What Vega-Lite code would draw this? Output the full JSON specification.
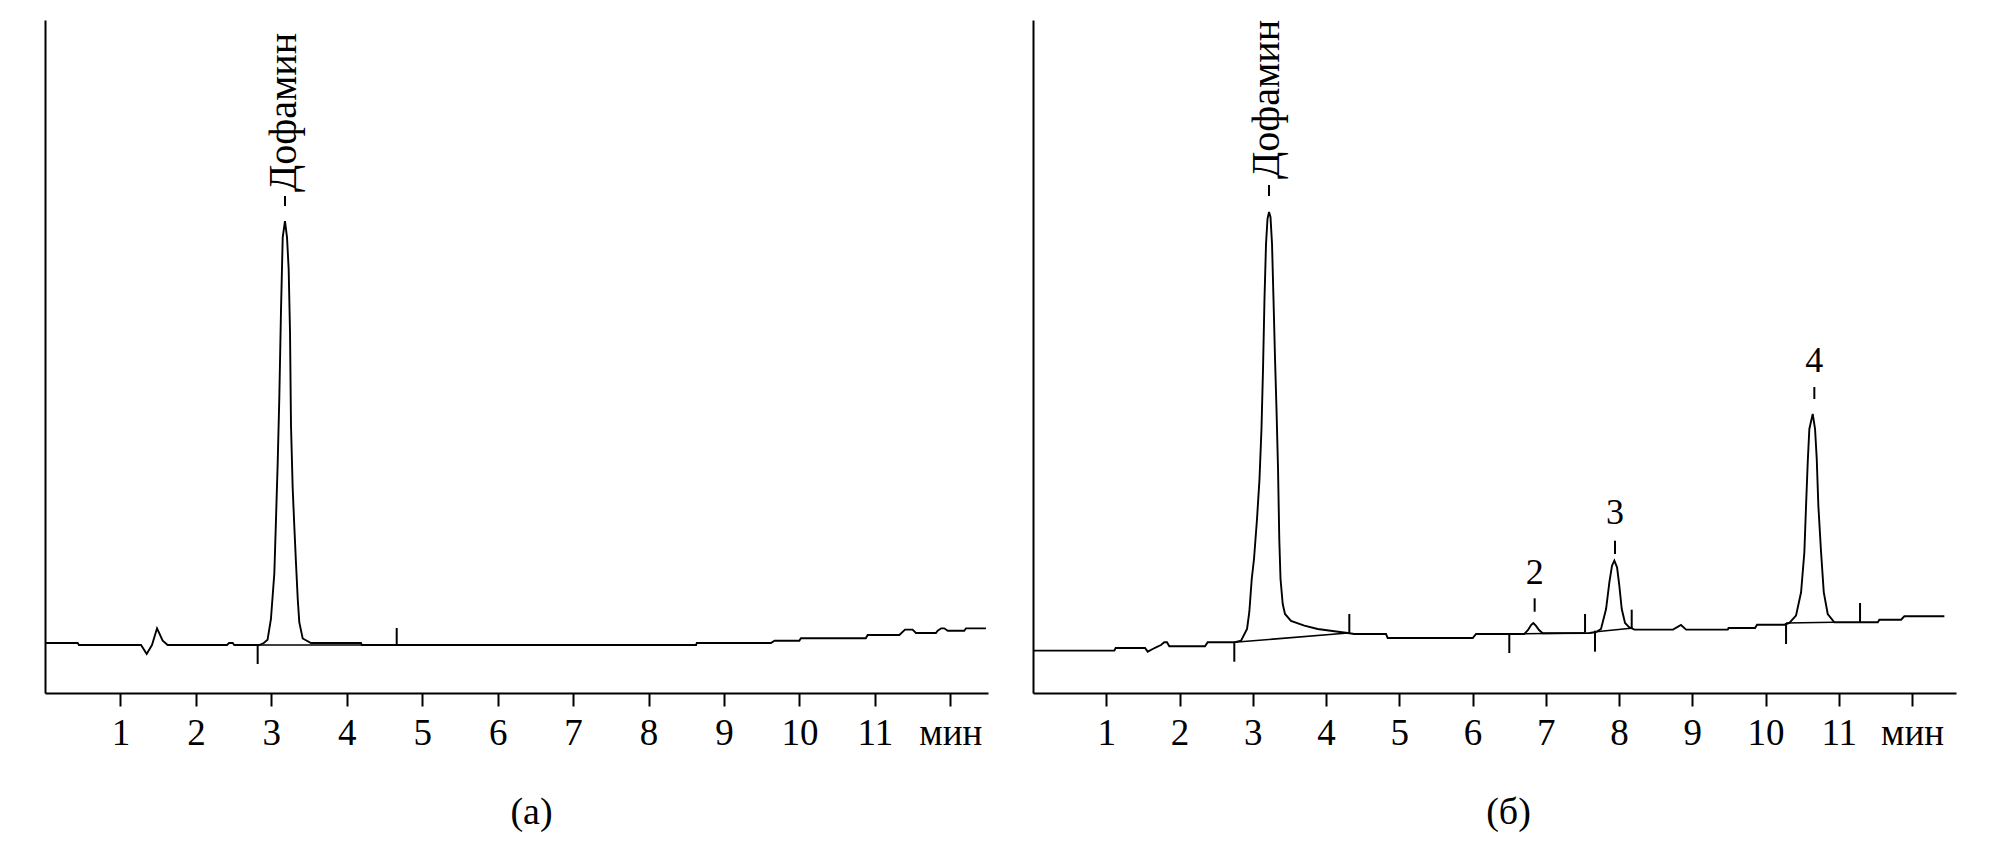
{
 "$schema": "https://vega.github.io/schema/vega-lite/v6.json",
 "background": "white",
 "padding": {"left": 41, "top": 20, "right": 10, "bottom": 10},
 "spacing": 45,
 "bounds": "flush",
 "config": {
  "view": {"stroke": null},
  "font": "Times New Roman, Liberation Serif, DejaVu Serif, serif",
  "axis": {"grid": false, "domainColor": "black", "domainWidth": 2, "tickColor": "black", "tickWidth": 2, "tickSize": 13, "labelColor": "black", "labelFont": "Times New Roman, Liberation Serif, DejaVu Serif, serif", "labelFontSize": 37, "labelPadding": 9, "titleFont": "Times New Roman, Liberation Serif, DejaVu Serif, serif", "titleFontSize": 38, "titleFontWeight": "normal", "titleColor": "black"}
 },
 "datasets": {
  "a_trace": [
   {"t":0,"v":7.43},{"t":0.433,"v":7.43},{"t":0.45,"v":7.13},{"t":1.273,"v":7.13},{"t":1.348,"v":5.79},{"t":1.418,"v":7.13},{"t":1.485,"v":9.61},{"t":1.56,"v":7.77},{"t":1.626,"v":7.13},{"t":2.413,"v":7.13},{"t":2.44,"v":7.43},{"t":2.488,"v":7.43},{"t":2.509,"v":7.13},{"t":2.841,"v":7.13},{"t":2.9,"v":7.43},{"t":2.95,"v":7.9},{"t":2.995,"v":11.0},{"t":3.04,"v":17.8},{"t":3.062,"v":25.8},{"t":3.085,"v":34.4},{"t":3.106,"v":43.9},{"t":3.128,"v":56.7},{"t":3.151,"v":67.7},{"t":3.181,"v":70.1},{"t":3.208,"v":67.7},{"t":3.23,"v":63.0},{"t":3.248,"v":53.5},{"t":3.261,"v":39.7},{"t":3.283,"v":30.5},{"t":3.305,"v":24.7},{"t":3.327,"v":19.3},{"t":3.35,"v":14.0},{"t":3.371,"v":10.5},{"t":3.416,"v":8.1},{"t":3.526,"v":7.43},{"t":4.189,"v":7.43},{"t":4.2,"v":7.13},{"t":8.63,"v":7.13},{"t":8.64,"v":7.43},{"t":9.623,"v":7.43},{"t":9.67,"v":7.77},{"t":9.999,"v":7.77},{"t":10.02,"v":8.13},{"t":10.88,"v":8.13},{"t":10.905,"v":8.62},{"t":11.325,"v":8.62},{"t":11.4,"v":9.41},{"t":11.5,"v":9.41},{"t":11.545,"v":8.92},{"t":11.81,"v":8.92},{"t":11.833,"v":9.26},{"t":11.88,"v":9.61},{"t":11.92,"v":9.61},{"t":11.966,"v":9.26},{"t":12.186,"v":9.26},{"t":12.208,"v":9.61},{"t":12.473,"v":9.61}
  ],
  "a_base": [
   {"seg":1,"t":2.819,"v":7.13},{"seg":1,"t":4.662,"v":7.13}
  ],
  "a_rules": [
   {"t":2.819,"v1":7.13,"v2":4.31},{"t":4.662,"v1":9.66,"v2":7.13},{"t":3.181,"v1":72.36,"v2":73.85}
  ],
  "a_names": [
   {"t":3.165,"v":74.44,"label":"Дофамин"}
  ],
  "b_trace": [
   {"t":0,"v":6.29},{"t":1.11,"v":6.29},{"t":1.129,"v":6.69},{"t":1.529,"v":6.69},{"t":1.566,"v":6.14},{"t":1.634,"v":6.54},{"t":1.679,"v":6.79},{"t":1.747,"v":7.13},{"t":1.792,"v":7.53},{"t":1.829,"v":7.53},{"t":1.861,"v":6.94},{"t":2.348,"v":6.94},{"t":2.385,"v":7.53},{"t":2.744,"v":7.53},{"t":2.84,"v":7.77},{"t":2.922,"v":9.51},{"t":2.953,"v":12.04},{"t":2.986,"v":16.94},{"t":3.017,"v":19.91},{"t":3.058,"v":25.85},{"t":3.092,"v":31.8},{"t":3.119,"v":39.23},{"t":3.14,"v":48.14},{"t":3.16,"v":58.54},{"t":3.181,"v":66.72},{"t":3.201,"v":70.43},{"t":3.222,"v":71.47},{"t":3.242,"v":70.73},{"t":3.263,"v":66.72},{"t":3.283,"v":58.54},{"t":3.304,"v":49.63},{"t":3.324,"v":42.2},{"t":3.345,"v":33.28},{"t":3.362,"v":22.88},{"t":3.379,"v":16.94},{"t":3.409,"v":13.22},{"t":3.44,"v":11.74},{"t":3.522,"v":10.7},{"t":3.704,"v":10.0},{"t":3.887,"v":9.51},{"t":4.113,"v":9.17},{"t":4.296,"v":8.92},{"t":4.386,"v":8.77},{"t":4.819,"v":8.77},{"t":4.842,"v":8.17},{"t":6.003,"v":8.17},{"t":6.048,"v":8.77},{"t":6.707,"v":8.77},{"t":6.758,"v":9.36},{"t":6.799,"v":10.1},{"t":6.83,"v":10.4},{"t":6.867,"v":9.96},{"t":6.908,"v":9.36},{"t":6.958,"v":8.87},{"t":7.6,"v":8.92},{"t":7.686,"v":9.06},{"t":7.754,"v":9.51},{"t":7.823,"v":12.48},{"t":7.868,"v":16.45},{"t":7.904,"v":18.92},{"t":7.936,"v":19.66},{"t":7.973,"v":18.68},{"t":8.004,"v":15.94},{"t":8.037,"v":12.48},{"t":8.082,"v":10.4},{"t":8.141,"v":9.76},{"t":8.177,"v":9.61},{"t":8.209,"v":9.41},{"t":8.737,"v":9.41},{"t":8.846,"v":10.1},{"t":8.915,"v":9.41},{"t":9.484,"v":9.41},{"t":9.495,"v":9.66},{"t":9.857,"v":9.66},{"t":9.884,"v":10.15},{"t":10.257,"v":10.15},{"t":10.325,"v":10.4},{"t":10.416,"v":11.49},{"t":10.485,"v":14.96},{"t":10.53,"v":20.91},{"t":10.553,"v":27.83},{"t":10.576,"v":34.28},{"t":10.598,"v":39.23},{"t":10.644,"v":41.46},{"t":10.676,"v":39.23},{"t":10.699,"v":34.77},{"t":10.721,"v":27.83},{"t":10.758,"v":20.91},{"t":10.795,"v":14.96},{"t":10.849,"v":11.74},{"t":10.939,"v":10.51},{"t":11.532,"v":10.51},{"t":11.554,"v":10.89},{"t":11.85,"v":10.89},{"t":11.895,"v":11.4},{"t":12.441,"v":11.4}
  ],
  "b_base": [
   {"seg":1,"t":2.748,"v":7.53},{"seg":1,"t":4.3,"v":8.92},
   {"seg":2,"t":6.502,"v":8.77},{"seg":2,"t":7.536,"v":8.92},
   {"seg":3,"t":7.686,"v":9.11},{"seg":3,"t":8.164,"v":9.61},
   {"seg":4,"t":10.28,"v":10.4},{"seg":4,"t":10.939,"v":10.51}
  ],
  "b_rules": [
   {"t":2.748,"v1":7.53,"v2":4.65},{"t":4.318,"v1":11.74,"v2":8.92},{"t":6.502,"v1":8.77,"v2":5.94},{"t":7.536,"v1":11.74,"v2":9.02},{"t":7.672,"v1":9.26,"v2":6.14},{"t":8.173,"v1":12.38,"v2":9.61},{"t":10.28,"v1":10.4,"v2":7.28},{"t":11.29,"v1":13.37,"v2":10.51},
   {"t":3.222,"v1":73.85,"v2":75.48},{"t":6.848,"v1":12.08,"v2":14.07},{"t":7.945,"v1":20.65,"v2":22.63},{"t":10.666,"v1":43.68,"v2":45.47}
  ],
  "b_names": [
   {"t":3.195,"v":76.37,"label":"Дофамин"}
  ],
  "b_nums": [
   {"t":6.848,"v":16.2,"label":"2"},{"t":7.945,"v":25.11,"label":"3"},{"t":10.666,"v":47.65,"label":"4"}
  ]
 },
 "hconcat": [
  {
   "width": 943,
   "height": 673,
   "encoding": {
    "x": {"field": "t", "type": "quantitative", "scale": {"domain": [0, 12.5], "nice": false, "zero": false},
     "axis": {"values": [1,2,3,4,5,6,7,8,9,10,11,12], "labelExpr": "datum.value == 12 ? 'мин' : datum.label", "labelFlush": false, "labelOverlap": false, "title": "(а)", "titleX": 486, "titleY": 130, "titleBaseline": "alphabetic", "titleAlign": "center", "titleAngle": 0}}
   },
   "layer": [
    {"data": {"name": "a_trace"}, "mark": {"type": "line", "color": "black", "strokeWidth": 1.9},
     "encoding": {"y": {"field": "v", "type": "quantitative", "scale": {"domain": [0, 100], "nice": false}, "axis": {"title": null, "labels": false, "ticks": false, "grid": false}}}},
    {"data": {"name": "a_base"}, "mark": {"type": "line", "color": "black", "strokeWidth": 1.6},
     "encoding": {"y": {"field": "v", "type": "quantitative", "title": null}, "detail": {"field": "seg"}}},
    {"data": {"name": "a_rules"}, "mark": {"type": "rule", "color": "black", "strokeWidth": 2},
     "encoding": {"y": {"field": "v1", "type": "quantitative", "title": null}, "y2": {"field": "v2"}}},
    {"data": {"name": "a_names"}, "mark": {"type": "text", "angle": 270, "align": "left", "baseline": "middle", "font": "Times New Roman, Liberation Serif, DejaVu Serif, serif", "fontSize": 40, "color": "black", "clip": true},
     "encoding": {"y": {"field": "v", "type": "quantitative", "title": null}, "text": {"field": "label"}}}
   ]
  },
  {
   "width": 923,
   "height": 673,
   "encoding": {
    "x": {"field": "t", "type": "quantitative", "scale": {"domain": [0, 12.6], "nice": false, "zero": false},
     "axis": {"values": [1,2,3,4,5,6,7,8,9,10,11,12], "labelExpr": "datum.value == 12 ? 'мин' : datum.label", "labelFlush": false, "labelOverlap": false, "title": "(б)", "titleX": 475, "titleY": 130, "titleBaseline": "alphabetic", "titleAlign": "center", "titleAngle": 0}}
   },
   "layer": [
    {"data": {"name": "b_trace"}, "mark": {"type": "line", "color": "black", "strokeWidth": 1.9},
     "encoding": {"y": {"field": "v", "type": "quantitative", "scale": {"domain": [0, 100], "nice": false}, "axis": {"title": null, "labels": false, "ticks": false, "grid": false}}}},
    {"data": {"name": "b_base"}, "mark": {"type": "line", "color": "black", "strokeWidth": 1.6},
     "encoding": {"y": {"field": "v", "type": "quantitative", "title": null}, "detail": {"field": "seg"}}},
    {"data": {"name": "b_rules"}, "mark": {"type": "rule", "color": "black", "strokeWidth": 2},
     "encoding": {"y": {"field": "v1", "type": "quantitative", "title": null}, "y2": {"field": "v2"}}},
    {"data": {"name": "b_names"}, "mark": {"type": "text", "angle": 270, "align": "left", "baseline": "middle", "font": "Times New Roman, Liberation Serif, DejaVu Serif, serif", "fontSize": 40, "color": "black", "clip": true},
     "encoding": {"y": {"field": "v", "type": "quantitative", "title": null}, "text": {"field": "label"}}},
    {"data": {"name": "b_nums"}, "mark": {"type": "text", "align": "center", "baseline": "alphabetic", "font": "Times New Roman, Liberation Serif, DejaVu Serif, serif", "fontSize": 36, "color": "black"},
     "encoding": {"y": {"field": "v", "type": "quantitative", "title": null}, "text": {"field": "label"}}}
   ]
  }
 ]
}
